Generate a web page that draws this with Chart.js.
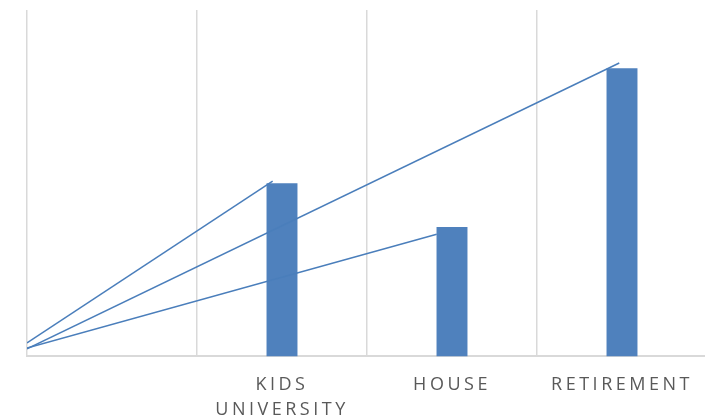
<!DOCTYPE html>
<html>
<head>
<meta charset="utf-8">
<script src="https://cdn.jsdelivr.net/npm/chart.js@4/dist/chart.umd.min.js"></script>
<style>
  html, body { margin: 0; padding: 0; background: #fff; overflow: hidden; }
  #wrap { position: relative; width: 710px; height: 418px; }
</style>
</head>
<body>
<div id="wrap"><canvas id="goalsChart" width="710" height="418"></canvas></div>
<script>
  // savings goals
  var categories = ['', ['KIDS', 'UNIVERSITY'], 'HOUSE', 'RETIREMENT'];
  var goalValues = [null, 50, 37.4, 83.2];

  // trend lines from the start to each goal (x in category units)
  var trendNames = ['Kids', 'Retirement', 'House'];
  var trendStartX = [-0.5, -0.5, -0.5];
  var trendStartY = [3.9, 2.2, 2.4];
  var trendEndX = [0.945, 2.984, 1.91];
  var trendEndY = [50.6, 84.7, 35.3];

  var barColor = '#4f81bd';
  var lineColor = '#4a7ebb';
  var gridColor = '#d9d9d9';

  var trendSets = trendNames.map(function(name, i) {
    return {
      type: 'line',
      label: name,
      xAxisID: 'x2',
      data: [
        { x: trendStartX[i], y: trendStartY[i] },
        { x: trendEndX[i], y: trendEndY[i] }
      ],
      borderColor: lineColor,
      borderWidth: 1.5,
      pointRadius: 0,
      fill: false,
      tension: 0
    };
  });

  // spaced-out caps on the axis labels
  var letterSpacing = {
    id: 'letterSpacing',
    beforeDraw: function(chart) {
      chart.ctx.letterSpacing = '3.5px';
    },
    afterDraw: function(chart) {
      chart.ctx.letterSpacing = '0px';
    }
  };

  new Chart(document.getElementById('goalsChart').getContext('2d'), {
    type: 'bar',
    data: {
      labels: categories,
      datasets: [{
        label: 'Goal',
        data: goalValues,
        backgroundColor: barColor,
        grouped: false,
        categoryPercentage: 1,
        barPercentage: 0.182,
        order: 2
      }].concat(trendSets)
    },
    plugins: [letterSpacing],
    options: {
      responsive: false,
      animation: false,
      devicePixelRatio: 1,
      layout: { padding: { left: 27, top: 10, right: 3, bottom: -20.5 } },
      plugins: {
        legend: { display: false },
        tooltip: { enabled: false }
      },
      scales: {
        x: {
          offset: true,
          grid: { color: gridColor, lineWidth: 1.5, offset: true, drawTicks: false },
          border: { color: gridColor, width: 2 },
          ticks: {
            color: '#595959',
            font: { family: 'Open Sans', size: 18, lineHeight: 1.39 },
            padding: 16,
            maxRotation: 0,
            autoSkip: false
          }
        },
        x2: {
          type: 'linear',
          display: false,
          offset: false,
          min: -0.5,
          max: 3.5
        },
        y: {
          display: false,
          min: 0,
          max: 100
        }
      }
    }
  });
</script>
</body>
</html>
